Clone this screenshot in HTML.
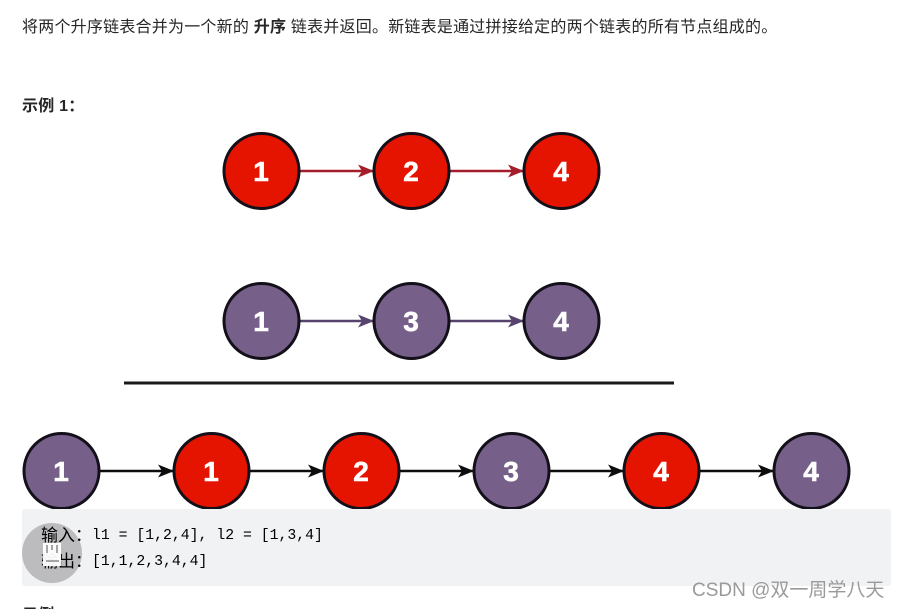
<!DOCTYPE html>
<html>
<head>
<meta charset="utf-8">
<style>
html,body{margin:0;padding:0;background:#fff;width:899px;height:609px;overflow:hidden}
body{position:relative;font-family:"Liberation Sans","Noto Sans CJK SC",sans-serif;color:#262626}
.t{position:absolute;white-space:nowrap;font-size:16px;line-height:20px;letter-spacing:.22px}
.mono{position:absolute;white-space:nowrap;font-family:"Liberation Mono",monospace;font-size:14.800px;line-height:20px;color:#000}
.cjk{position:absolute;white-space:nowrap;font-family:"Liberation Sans","Noto Sans CJK SC",sans-serif;font-size:17px;line-height:20px;color:#000}
svg{position:absolute;left:0;top:0}
</style>
</head>
<body>
<div class="t" style="left:22px;top:18px">将两个升序链表合并为一个新的 <b>升序</b> 链表并返回。新链表是通过拼接给定的两个链表的所有节点组成的。</div>
<div class="t" style="left:22px;top:97px"><b>示例 1：</b></div>
<svg width="899" height="609" viewBox="0 0 899 609" font-family="'Liberation Sans',sans-serif">
<defs>
<marker id="r" markerWidth="16" markerHeight="14" refX="15" refY="7" orient="auto" markerUnits="userSpaceOnUse"><path d="M0 0.500L16 7L0 13.500L4 7Z" fill="#a51d2a"/></marker>
<marker id="p" markerWidth="16" markerHeight="14" refX="15" refY="7" orient="auto" markerUnits="userSpaceOnUse"><path d="M0 0.500L16 7L0 13.500L4 7Z" fill="#57446e"/></marker>
<marker id="k" markerWidth="16" markerHeight="14" refX="15" refY="7" orient="auto" markerUnits="userSpaceOnUse"><path d="M0 0.500L16 7L0 13.500L4 7Z" fill="#0d0d0d"/></marker>
</defs>
<g stroke-width="2.500" fill="none">
<path d="M299 171H373" stroke="#a51d2a" marker-end="url(#r)"/>
<path d="M449 171H523" stroke="#a51d2a" marker-end="url(#r)"/>
<path d="M299 321H373" stroke="#57446e" marker-end="url(#p)"/>
<path d="M449 321H523" stroke="#57446e" marker-end="url(#p)"/>
<path d="M99 471H173" stroke="#0d0d0d" marker-end="url(#k)"/>
<path d="M249 471H323" stroke="#0d0d0d" marker-end="url(#k)"/>
<path d="M399 471H473" stroke="#0d0d0d" marker-end="url(#k)"/>
<path d="M549 471H623" stroke="#0d0d0d" marker-end="url(#k)"/>
<path d="M699 471H773" stroke="#0d0d0d" marker-end="url(#k)"/>
</g>
<path d="M124 383H674" stroke="#191919" stroke-width="3"/>
<g stroke="#14101a" stroke-width="3">
<circle cx="261.500" cy="171" r="37.500" fill="#e51400"/>
<circle cx="411.500" cy="171" r="37.500" fill="#e51400"/>
<circle cx="561.500" cy="171" r="37.500" fill="#e51400"/>
<circle cx="261.500" cy="321" r="37.500" fill="#76608a"/>
<circle cx="411.500" cy="321" r="37.500" fill="#76608a"/>
<circle cx="561.500" cy="321" r="37.500" fill="#76608a"/>
<circle cx="61.500" cy="471" r="37.500" fill="#76608a"/>
<circle cx="211.500" cy="471" r="37.500" fill="#e51400"/>
<circle cx="361.500" cy="471" r="37.500" fill="#e51400"/>
<circle cx="511.500" cy="471" r="37.500" fill="#76608a"/>
<circle cx="661.500" cy="471" r="37.500" fill="#e51400"/>
<circle cx="811.500" cy="471" r="37.500" fill="#76608a"/>
</g>
<g fill="#fff" stroke="#fff" stroke-width=".6" font-size="28" font-weight="700" text-anchor="middle">
<text x="261" y="181">1</text><text x="411" y="181">2</text><text x="561" y="181">4</text>
<text x="261" y="331">1</text><text x="411" y="331">3</text><text x="561" y="331">4</text>
<text x="61" y="481">1</text><text x="211" y="481">1</text><text x="361" y="481">2</text>
<text x="511" y="481">3</text><text x="661" y="481">4</text><text x="811" y="481">4</text>
</g>
<rect x="22" y="509" width="869" height="77" rx="3" fill="#f1f2f4"/>
<circle cx="52" cy="553" r="30" fill="#bcbcbe"/>
</svg>
<div class="cjk" style="left:41px;top:526px">输入：</div>
<div class="mono" style="left:92px;top:526px">l1 = [1,2,4], l2 = [1,3,4]</div>
<div class="cjk" style="left:41px;top:552px">输出：</div>
<div class="mono" style="left:92px;top:552px">[1,1,2,3,4,4]</div>
<svg width="899" height="609" viewBox="0 0 899 609">
<path d="M43 543H61V566H43Z" fill="#fff" opacity=".95"/>
<path d="M47 545V553M57 545V553M52 545V550M46 561H59" stroke="#8a8a8a" stroke-width="1.500" fill="none"/>
</svg>
<div class="t" style="left:22px;top:606px"><b>示例</b></div>
<div class="t" style="left:692px;top:580px;font-size:19px;letter-spacing:0;line-height:22px;color:#9a9a9a">CSDN @双一周学八天</div>
</body>
</html>
